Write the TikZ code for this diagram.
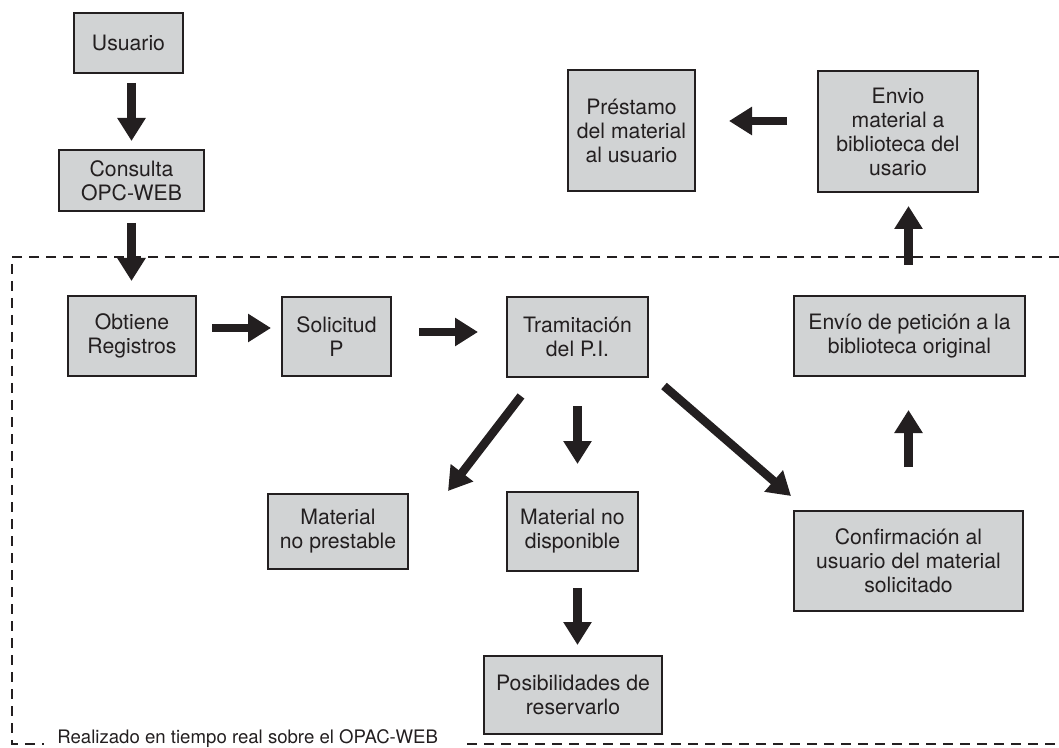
\documentclass[tikz,border=0pt]{standalone}
\usepackage{fontspec}
\setmainfont{TeX Gyre Heros}
\definecolor{boxGray}{HTML}{D1D3D4}
\definecolor{inkDark}{HTML}{231F20}
\usetikzlibrary{arrows.meta, positioning, calc}

\begin{document}
\begin{tikzpicture}[x=0.5pt, y=-0.5pt,
  box/.style={draw=inkDark, line width=1pt, fill=boxGray, align=center,
    inner sep=0pt, text=inkDark, font=\fontsize{10.6}{12}\selectfont},
  flow/.style={draw=inkDark, line width=4.25pt,
    -{Triangle[width=13.5pt, length=11.5pt]}},
  frame/.style={draw=inkDark, line width=1.3pt, dash pattern=on 5pt off 3.5pt},
  note/.style={inner sep=0pt, text=inkDark, font=\fontsize{9.3}{10}\selectfont}]
  \useasboundingbox (0,0) rectangle (1059,748);

  % outside the frame
  \node[box, minimum width=54.5pt, minimum height=30pt] (usuario) at (128.5,43) {Usuario};
  \node[box, minimum width=72.5pt, minimum height=30.5pt] (consulta) at (131.5,180.5) {Consulta\\OPC-WEB};
  \node[box, minimum width=63.5pt, minimum height=60.5pt] (prestamo) at (631.5,130.5) {Préstamo\\del material\\al usuario};
  \node[box, minimum width=80pt, minimum height=60.5pt] (envmat) at (898,131.5) {Envio\\material a\\biblioteca del\\usario};

  % inside the frame
  \node[box, minimum width=64pt, minimum height=40pt] (obtiene) at (132,336) {Obtiene\\Registros};
  \node[box, minimum width=54.5pt, minimum height=39.5pt] (solicitud) at (336.5,336.5) {Solicitud\\P};
  \node[box, minimum width=70.5pt, minimum height=40pt] (tram) at (577.5,337) {Tramitación\\del P.I.};
  \node[box, minimum width=115.5pt, minimum height=40pt] (envpet) at (909.5,336) {Envío de petición a la\\biblioteca original};
  \node[box, minimum width=70pt, minimum height=37.5pt] (noprest) at (338,531.5) {Material\\no prestable};
  \node[box, minimum width=65.5pt, minimum height=39.5pt] (nodisp) at (572.5,531.5) {Material no\\disponible};
  \node[box, minimum width=89pt, minimum height=39pt] (posib) at (573,695) {Posibilidades de\\reservarlo};
  \node[box, minimum width=114.5pt, minimum height=50pt] (confirm) at (908.5,561) {Confirmación al\\usuario del material\\solicitado};

  \node[note, anchor=base west] (nota) at (57,743) {Realizado en tiempo real sobre el OPAC-WEB};
  \draw[frame] (1059,257) -| (12,744) -- (44,744);
  \draw[frame] (467,744) -- (1059,744);

  \draw[flow, shorten <=4.5pt, shorten >=4pt] (usuario.south -| consulta.north) -- (consulta.north);
  \draw[flow, shorten <=5.5pt, shorten >=7pt] (consulta.south) -- (consulta.south |- obtiene.north);
  \draw[flow, shorten <=7.5pt, shorten >=5pt] ([yshift=4pt]obtiene.east) -- ([yshift=4pt]obtiene.east -| solicitud.west);
  \draw[flow, shorten <=13.5pt, shorten >=14pt] ([yshift=2.25pt]solicitud.east) -- ([yshift=2.25pt]solicitud.east -| tram.west);
  \draw[flow, shorten <=14pt, shorten >=13.5pt] (tram.south) -- (tram.south |- nodisp.north);
  \draw[flow] ($(tram.south west)+(15,18)$) -- ($(noprest.north east)+(39,-2)$);
  \draw[flow] ($(tram.south east)+(15,8)$) -- ($(confirm.north west)+(-2,-14)$);
  \draw[flow, shorten <=8pt, shorten >=5pt] (nodisp.south -| tram) -- (posib.north -| tram);
  \draw[flow, shorten <=21.5pt, shorten >=16.5pt] (confirm.north) -- (confirm.north |- envpet.south);
  \draw[flow, shorten <=15pt, shorten >=6.5pt] (confirm.north |- envpet.north) -- (confirm.north |- envmat.south);
  \draw[flow, shorten <=15pt, shorten >=16.5pt] ([yshift=5.25pt]envmat.west) -- ([yshift=5.25pt]envmat.west -| prestamo.east);
\end{tikzpicture}
\end{document}
